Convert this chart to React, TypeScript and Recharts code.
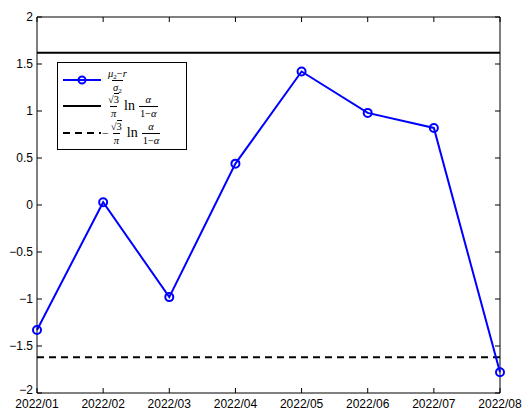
import {
  LineChart,
  Line,
  XAxis,
  YAxis,
  ReferenceLine,
  Legend,
} from "recharts";

const months = [
  "2022/01",
  "2022/02",
  "2022/03",
  "2022/04",
  "2022/05",
  "2022/06",
  "2022/07",
  "2022/08",
];
const ratio = [-1.33, 0.03, -0.98, 0.44, 1.42, 0.98, 0.82, -1.78];
const upper = [1.62, 1.62, 1.62, 1.62, 1.62, 1.62, 1.62, 1.62];
const lower = [-1.62, -1.62, -1.62, -1.62, -1.62, -1.62, -1.62, -1.62];
const yTicks = [-2, -1.5, -1, -0.5, 0, 0.5, 1, 1.5, 2];

const data = months.map((m, i) => ({
  month: m,
  ratio: ratio[i],
  upper: upper[i],
  lower: lower[i],
}));

// plot box (pixels), used for the inward MATLAB-style ticks
const TOP = 17;
const BOTTOM = 393;
const LEFT = 37;
const RIGHT = 500;
const TICK = 5;

const fmt = (v: number) => String(v).replace("-", "\u2212");

const XTick = (props: any) => {
  const { x, payload } = props;
  return (
    <g>
      <line x1={x} x2={x} y1={BOTTOM} y2={BOTTOM - TICK} stroke="#000" />
      <line x1={x} x2={x} y1={TOP} y2={TOP + TICK} stroke="#000" />
      <text
        x={x}
        y={BOTTOM + 15}
        textAnchor="middle"
        fontSize={12}
        fontFamily="Liberation Sans, Arial, sans-serif"
        fill="#000"
      >
        {payload.value}
      </text>
    </g>
  );
};

const YTick = (props: any) => {
  const { y, payload } = props;
  // the lowest label sits a little higher so it clears the first month label
  const dy = payload.value === -2 ? 1 : 4;
  return (
    <g>
      <line x1={LEFT} x2={LEFT + TICK} y1={y} y2={y} stroke="#000" />
      <line x1={RIGHT} x2={RIGHT - TICK} y1={y} y2={y} stroke="#000" />
      <text
        x={LEFT - 4}
        y={y + dy}
        textAnchor="end"
        fontSize={12}
        fontFamily="Liberation Sans, Arial, sans-serif"
        fill="#000"
      >
        {fmt(payload.value)}
      </text>
    </g>
  );
};

const Frac = ({ num, den }: { num: any; den: any }) => (
  <span
    style={{
      display: "inline-flex",
      flexDirection: "column",
      alignItems: "center",
      fontSize: 10.5,
      lineHeight: "11px",
    }}
  >
    <span style={{ padding: "0 1px 1px" }}>{num}</span>
    <span style={{ borderTop: "1px solid #000", padding: "1px 1px 0" }}>{den}</span>
  </span>
);

const Sub = ({ children }: { children: any }) => (
  <span style={{ fontSize: 7, position: "relative", top: 2, lineHeight: 0 }}>
    {children}
  </span>
);

const Sqrt3 = () => (
  <span>
    √<span style={{ borderTop: "1px solid #000" }}>3</span>
  </span>
);

const LnTerm = () => (
  <>
    <Frac num={<Sqrt3 />} den={<i>π</i>} />
    <span style={{ fontSize: 14, margin: "0 4px" }}>ln</span>
    <Frac num={<i>α</i>} den={<span>1−<i>α</i></span>} />
  </>
);

const Sample = ({ kind }: { kind: string }) => (
  <svg width={40} height={10} style={{ marginRight: 6, flex: "none" }}>
    <line
      x1={2}
      x2={40}
      y1={5}
      y2={5}
      stroke={kind === "ratio" ? "#0000ff" : "#000"}
      strokeWidth={2}
      strokeDasharray={kind === "lower" ? "7 5" : undefined}
    />
    {kind === "ratio" && (
      <circle cx={21} cy={5} r={3.5} fill="none" stroke="#0000ff" strokeWidth={2} />
    )}
  </svg>
);

const row = { display: "flex", alignItems: "center" } as const;

const MathLegend = () => (
  <div
    style={{
      border: "1px solid #000",
      background: "#fff",
      width: 130,
      height: 88,
      padding: "4px 0 0 3px",
      boxSizing: "border-box",
      fontFamily: "Liberation Serif, serif",
      color: "#000",
    }}
  >
    <div style={{ ...row, height: 26 }}>
      <Sample kind="ratio" />
      <Frac
        num={
          <span>
            <i>μ</i>
            <Sub>2</Sub>−<i>r</i>
          </span>
        }
        den={
          <span>
            <i>σ</i>
            <Sub>2</Sub>
          </span>
        }
      />
    </div>
    <div style={{ ...row, height: 26 }}>
      <Sample kind="upper" />
      <LnTerm />
    </div>
    <div style={{ ...row, height: 28 }}>
      <Sample kind="lower" />
      <span style={{ fontSize: 12, marginLeft: -5, marginRight: 1 }}>−</span>
      <LnTerm />
    </div>
  </div>
);

export default function App() {
  return (
    <div style={{ position: "absolute", left: 0, top: 0, background: "#fff" }}>
      <LineChart
        width={523}
        height={412}
        data={data}
        margin={{ top: 17, right: 23, bottom: 0, left: 0 }}
      >
        <XAxis
          dataKey="month"
          height={19}
          interval={0}
          tickLine={false}
          tickSize={0}
          axisLine={{ stroke: "#000" }}
          tick={<XTick />}
        />
        <YAxis
          width={37}
          domain={[-2, 2]}
          ticks={yTicks}
          interval={0}
          tickLine={false}
          tickSize={0}
          axisLine={{ stroke: "#000" }}
          tick={<YTick />}
        />
        <ReferenceLine y={2} stroke="#000" />
        <ReferenceLine x="2022/08" stroke="#000" />
        <Legend
          layout="vertical"
          align="center"
          verticalAlign="middle"
          content={<MathLegend />}
          wrapperStyle={{ left: 57, top: 62, width: 130 }}
        />
        <Line
          dataKey="upper"
          stroke="#000"
          strokeWidth={2}
          dot={false}
          isAnimationActive={false}
        />
        <Line
          dataKey="lower"
          stroke="#000"
          strokeWidth={2}
          strokeDasharray="7 5"
          dot={false}
          isAnimationActive={false}
        />
        <Line
          dataKey="ratio"
          stroke="#0000ff"
          strokeWidth={2}
          dot={{ r: 4, fill: "none", stroke: "#0000ff", strokeWidth: 2 }}
          isAnimationActive={false}
        />
      </LineChart>
    </div>
  );
}
